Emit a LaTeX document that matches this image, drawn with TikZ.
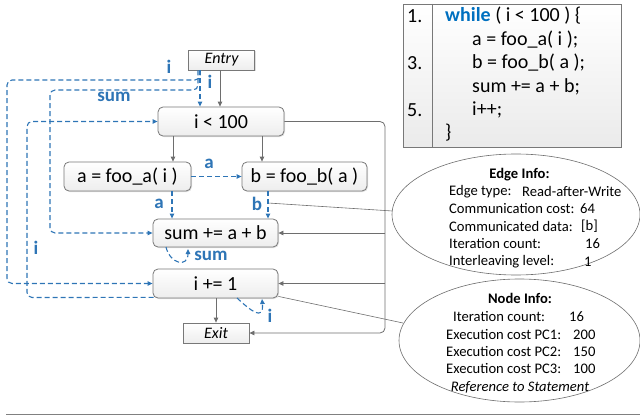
\documentclass[tikz,border=0pt]{standalone}
\usepackage{fontspec}
\setmainfont{Carlito}
\usetikzlibrary{arrows.meta,shadows,calc}
\definecolor{eblue}{RGB}{46,117,182}
\definecolor{kblue}{RGB}{0,112,192}
\definecolor{lgray}{RGB}{110,110,110}
\definecolor{bgray}{RGB}{120,120,120}
\tikzset{
  box/.style={draw=bgray, line width=0.8pt, rounded corners=5pt, top color=white, bottom color=gray!14,
    drop shadow={opacity=0.25, shadow xshift=1pt, shadow yshift=-1pt},
    minimum width=125pt, minimum height=29pt, inner sep=0pt, font=\fontsize{20}{24}\selectfont},
  termbox/.style={draw=bgray, line width=0.8pt, top color=white, bottom color=gray!14,
    drop shadow={opacity=0.25, shadow xshift=1pt, shadow yshift=-1pt},
    minimum width=66pt, minimum height=20pt, inner sep=0pt, font=\fontsize{16}{19}\selectfont\itshape},
  dep/.style={draw=eblue, line width=1.1pt, dash pattern=on 5pt off 3pt, -{Triangle[length=5pt,width=4.5pt]}, rounded corners=5pt},
  flow/.style={draw=lgray, line width=0.8pt, -{Triangle[length=5pt,width=4.5pt]}},
  callout/.style={draw=lgray, line width=0.6pt},
  dlabel/.style={text=eblue, font=\fontsize{19}{22}\selectfont\bfseries, inner sep=0pt},
  codetxt/.style={font=\fontsize{20}{24}\selectfont, inner sep=0pt, anchor=west},
  infotxt/.style={font=\fontsize{14.6}{17}\selectfont, inner sep=0pt, anchor=west},
  infohead/.style={font=\fontsize{14.6}{17}\selectfont\bfseries, inner sep=0pt},
  infoell/.style={draw=lgray, line width=0.6pt, fill=white}
}
\begin{document}
\begin{tikzpicture}[x=1pt,y=-1pt]
\useasboundingbox (0,0) rectangle (640,420);

% code box
\path[top color=white, bottom color=gray!16, draw=bgray, line width=0.8pt] (403,4) rectangle (621,147);
\draw[bgray, line width=0.8pt] (432,4) -- (432,147);
\node[codetxt] (n1) at (407,16) {1.};
\node[codetxt] (n3) at (407,63) {3.};
\node[codetxt] (n5) at (407,110) {5.};
\node[codetxt] (c1) at (445,16) {\textcolor{kblue}{\textbf{while}} ( i < 100 ) \{};
\node[codetxt] (c2) at (472,40) {a = foo\_a( i );};
\node[codetxt] (c3) at (472,63) {b = foo\_b( a );};
\node[codetxt] (c4) at (472,87) {sum += a + b;};
\node[codetxt] (c5) at (472,110) {i++;};
\node[codetxt] (c6) at (445,133) {\}};

% nodes
\node[termbox] (entry) at (221.5,60) {Entry};
\node[box, minimum width=126pt] (cond) at (221,121.5) {i < 100};
\node[box, minimum width=127pt] (fa) at (127.5,176.5) {a = foo\_a( i )};
\node[box] (fb) at (304.5,176.5) {b = foo\_b( a )};
\node[box, minimum height=28pt] (sum) at (215.5,233) {sum += a + b};
\node[box] (inc) at (215.5,283.5) {i += 1};
\node[termbox] (exit) at (216,333) {Exit};

% info ellipses
\draw[infoell] (516,214.5) ellipse [x radius=124, y radius=60.5];
\node[infohead] (ei) at (519.5,175) {Edge Info:};
\node[infotxt] (e1) at (449,191.5) {Edge type:};
\node[infotxt] (e1v) at (522,191.5) {Read-after-Write};
\node[infotxt] (e2) at (449,208.5) {Communication cost:};
\node[infotxt] (e2v) at (580,208.5) {64};
\node[infotxt] (e3) at (449,226) {Communicated data:};
\node[infotxt] (e3v) at (581,226) {[b]};
\node[infotxt] (e4) at (449,244) {Iteration count:};
\node[infotxt] (e4v) at (585,244) {16};
\node[infotxt] (e5) at (449,262) {Interleaving level:};
\node[infotxt] (e5v) at (584,262) {1};

\draw[infoell] (519.5,340.5) ellipse [x radius=120.5, y radius=61.5];
\node[infohead] (ni) at (520,298) {Node Info:};
\node[infotxt] (i1) at (453,317) {Iteration count:};
\node[infotxt] (i1v) at (569,317) {16};
\node[infotxt] (i2) at (446,335) {Execution cost PC1:};
\node[infotxt] (i2v) at (573,335) {200};
\node[infotxt] (i3) at (446,352) {Execution cost PC2:};
\node[infotxt] (i3v) at (573,352) {150};
\node[infotxt] (i4) at (446,369) {Execution cost PC3:};
\node[infotxt] (i4v) at (573,369) {100};
\node[inner sep=0pt, font=\fontsize{14.6}{17}\selectfont\itshape] (i5) at (520,387) {Reference to Statement};

% gray control flow
\draw[flow] (entry.south -| 220,0) -- (cond.north -| 220,0);
\draw[flow] (cond.south -| 173,0) -- (fa.north -| 173,0);
\draw[flow] (cond.south -| 262,0) -- (fb.north -| 262,0);
\coordinate (rtop) at (385,121.5);
\coordinate (rsum) at (385,233);
\coordinate (rinc) at (385,283.5);
\draw[flow, rounded corners=5pt] (cond.east) -- (rtop) -- (385,333) -- (exit.east);
\draw[flow] (rsum) -- (sum.east);
\draw[flow] (rinc) -- (inc.east);
\draw[flow] (inc.south -| 216,0) -- (exit.north -| 216,0);

% callouts
\coordinate (bmid) at (268,203);
\draw[callout] (bmid) -- (392.5,211);
\draw[callout] (inc.south east) ++(0,-2) -- (403,323);

% blue data dependencies
\draw[dep] (entry.south -| 200,0) -- (cond.north -| 200,0);
\draw[dep] (entry.south -| 200,0) -- (200,80) -- (7,80) -- (7,283.5) -- (inc.west);
\draw[dep] (entry.south -| 198,0) -- (198,90) -- (50,90) -- (50,233) -- (sum.west);
\draw[dep] (inc.south west) ++(1,-1) -- (27,297.5) -- (27,121.5) -- (cond.west);
\draw[dep] (fa.east) -- (fb.west);
\draw[dep] (fa.south -| 172,0) -- (sum.north -| 172,0);
\draw[dep] (fb.south -| 268,0) -- (sum.north -| 268,0);
\draw[dep] (166,247) .. controls (170,264) and (188,268) .. (188,249);
\draw[dep] (237,298) .. controls (250,310) and (264,322) .. (262,299);

\node[dlabel] (li1) at (169,67) {i};
\node[dlabel] (li2) at (210,82) {i};
\node[dlabel] (lsum1) at (114,97) {sum};
\node[dlabel] (la1) at (209,164) {a};
\node[dlabel] (la2) at (159,204) {a};
\node[dlabel] (lb) at (257,204) {b};
\node[dlabel] (li3) at (36,248) {i};
\node[dlabel] (lsum2) at (211,256) {sum};
\node[dlabel] (li4) at (270,316) {i};

% bottom rule
\draw[gray, line width=1.6pt] (6,414.5) -- (640,414.5);
\end{tikzpicture}
\end{document}
